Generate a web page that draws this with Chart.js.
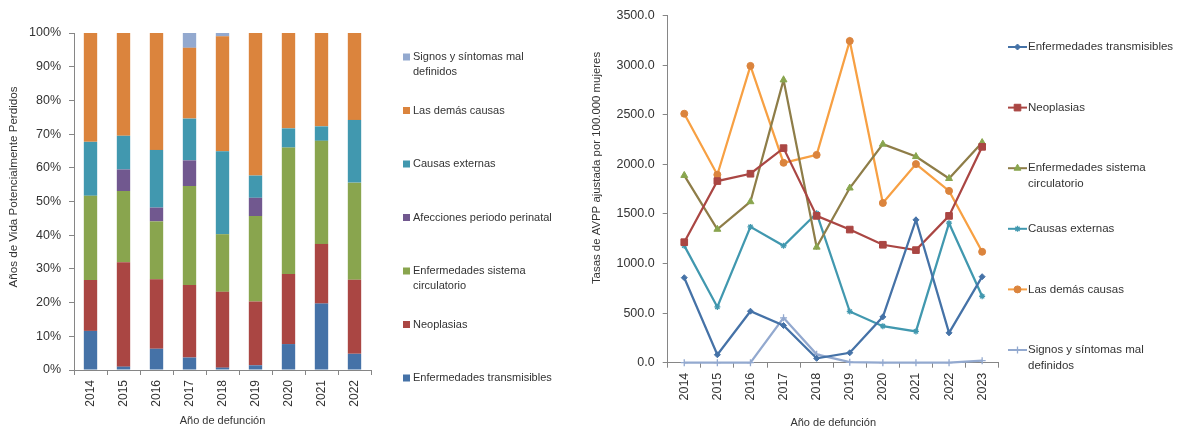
<!DOCTYPE html>
<html>
<head>
<meta charset="utf-8">
<script src="https://cdn.jsdelivr.net/npm/chart.js@4.4.1/dist/chart.umd.min.js"></script>
<style>
  html, body { margin: 0; padding: 0; background: #fff; width: 1178px; height: 431px; overflow: hidden; }
  .panel { position: absolute; top: 0; }
  #panelShare { left: 0; width: 590px; height: 431px; }
  #panelRates { left: 580px; width: 598px; height: 431px; }
</style>
</head>
<body>
<div class="panel" id="panelShare"><canvas id="share" width="590" height="431"></canvas></div>
<div class="panel" id="panelRates"><canvas id="rates" width="598" height="431"></canvas></div>
<script>
// ---- Data ----
const shareYears = ['2014', '2015', '2016', '2017', '2018', '2019', '2020', '2021', '2022'];
const rateYears  = ['2014', '2015', '2016', '2017', '2018', '2019', '2020', '2021', '2022', '2023'];

// Share of potential years of life lost by cause (%)
const shareTransmisibles = [11.6, 1.0, 6.3, 3.7, 0.7, 1.4, 7.7, 19.7, 4.8];
const shareNeoplasias    = [15.1, 31.0, 20.6, 21.5, 22.5, 18.9, 20.8, 17.7, 22.0];
const shareCirculatorio  = [25.0, 21.1, 17.2, 29.4, 17.1, 25.4, 37.5, 30.6, 28.8];
const sharePerinatal     = [0, 6.4, 4.1, 7.6, 0, 5.4, 0, 0, 0];
const shareExternas      = [16.0, 10.0, 17.1, 12.4, 24.6, 6.6, 5.7, 4.3, 18.6];
const shareDemas         = [32.3, 30.5, 34.7, 21.0, 34.1, 42.3, 28.3, 27.7, 25.8];
const shareSignos        = [0, 0, 0, 4.4, 1.0, 0, 0, 0, 0];

// Adjusted YPLL rates per 100.000 women
const rateTransmisibles = [857, 80, 519, 375, 44, 100, 462, 1440, 301, 867];
const rateNeoplasias    = [1215, 1831, 1905, 2163, 1480, 1342, 1189, 1135, 1480, 2176];
const rateCirculatorio  = [1888, 1345, 1623, 2851, 1165, 1761, 2203, 2078, 1857, 2219];
const rateExternas      = [1180, 562, 1369, 1179, 1506, 516, 368, 315, 1406, 670];
const rateDemas         = [2510, 1895, 2992, 2015, 2095, 3243, 1610, 2002, 1732, 1118];
const rateSignos        = [0, 0, 0, 452, 84, 5, 0, 0, 0, 20];

// ---- Style ----
const FONT = '"Liberation Sans", Arial, sans-serif';
const TEXT = '#333333';
const AXIS = '#868686';
Chart.defaults.font.family = FONT;
Chart.defaults.color = TEXT;

// Splits a legend name into lines no wider than maxWidth
function wrapText(ctx, text, maxWidth) {
  const words = text.split(' ');
  const lines = [];
  let cur = '';
  words.forEach(w => {
    const test = cur ? cur + ' ' + w : w;
    if (ctx.measureText(test).width > maxWidth && cur) { lines.push(cur); cur = w; }
    else cur = test;
  });
  if (cur) lines.push(cur);
  return lines;
}

// Legend column drawn beside the plot
const sideLegend = {
  id: 'sideLegend',
  afterDraw(chart, args, o) {
    if (!o || !o.order) return;
    const ctx = chart.ctx;
    ctx.save();
    ctx.font = o.size + 'px ' + FONT;
    ctx.textBaseline = 'middle';
    o.order.forEach((idx, k) => {
      const ds = chart.data.datasets[idx];
      const y = o.top + k * o.step;
      if (o.kind === 'box') {
        ctx.fillStyle = ds.backgroundColor;
        ctx.fillRect(o.symbolX, y - 3.5, 7, 7);
      } else {
        ctx.strokeStyle = ds.borderColor;
        ctx.lineWidth = 2;
        ctx.beginPath();
        ctx.moveTo(o.symbolX, y);
        ctx.lineTo(o.symbolX + o.symbolW, y);
        ctx.stroke();
        ctx.fillStyle = ds.pointBackgroundColor;
        ctx.strokeStyle = ds.pointBorderColor;
        ctx.lineWidth = ds.pointBorderWidth;
        Chart.helpers.drawPoint(ctx, {
          pointStyle: ds.pointStyle, radius: ds.pointRadius, rotation: 0,
          borderWidth: ds.pointBorderWidth
        }, o.symbolX + o.symbolW / 2, y);
      }
      ctx.fillStyle = TEXT;
      wrapText(ctx, ds.label, o.wrap).forEach((ln, j) => ctx.fillText(ln, o.textX, y + j * o.lineGap));
    });
    ctx.restore();
  }
};

// Vertical value-axis title, centred on a given point
const sideTitle = {
  id: 'sideTitle',
  afterDraw(chart, args, o) {
    if (!o || !o.text) return;
    const ctx = chart.ctx;
    ctx.save();
    ctx.translate(o.cx, o.cy);
    ctx.rotate(-Math.PI / 2);
    ctx.font = o.size + 'px ' + FONT;
    ctx.fillStyle = TEXT;
    ctx.textAlign = 'center';
    ctx.textBaseline = 'middle';
    ctx.fillText(o.text, 0, 0);
    ctx.restore();
  }
};

// ---- Stacked 100% bars ----
function shareSet(label, data, color) {
  return { label, data, backgroundColor: color, borderWidth: 0, barPercentage: 0.405, categoryPercentage: 1 };
}

new Chart(document.getElementById('share'), {
  type: 'bar',
  data: {
    labels: shareYears,
    datasets: [
      shareSet('Enfermedades transmisibles', shareTransmisibles, '#4572A7'),
      shareSet('Neoplasias', shareNeoplasias, '#AA4643'),
      shareSet('Enfermedades sistema circulatorio', shareCirculatorio, '#89A54E'),
      shareSet('Afecciones periodo perinatal', sharePerinatal, '#71588F'),
      shareSet('Causas externas', shareExternas, '#4198AF'),
      shareSet('Las demás causas', shareDemas, '#DB843D'),
      shareSet('Signos y síntomas mal definidos', shareSignos, '#93A9CF')
    ]
  },
  options: {
    responsive: false,
    animation: false,
    devicePixelRatio: 1,
    layout: { padding: { left: 0, right: 219, top: 33, bottom: 0 } },
    plugins: {
      legend: { display: false },
      tooltip: { enabled: false },
      sideLegend: { kind: 'box', order: [6, 5, 4, 3, 2, 1, 0], symbolX: 403, textX: 413,
                    top: 57, step: 53.5, lineGap: 15, size: 11, wrap: 150 },
      sideTitle: { text: 'Años de Vida Potencialmente Perdidos', cx: 14, cy: 187, size: 11.6 }
    },
    scales: {
      x: {
        stacked: true,
        grid: { drawOnChartArea: false, drawTicks: true, tickLength: 5, color: AXIS, offset: true },
        border: { color: AXIS },
        ticks: { minRotation: 90, maxRotation: 90, padding: 5, font: { size: 12 }, color: TEXT },
        title: { display: true, text: 'Año de defunción', font: { size: 11 }, color: TEXT, padding: { top: 0, bottom: 3 } },
        afterFit(s) { s.height = 61; }
      },
      y: {
        stacked: true, min: 0, max: 100,
        grid: { drawOnChartArea: false, drawTicks: true, tickLength: 5, color: AXIS },
        border: { color: AXIS },
        ticks: { stepSize: 10, padding: 8, font: { size: 12.5 }, color: TEXT, callback: v => v + '%' },
        afterFit(s) { s.width = 74; }
      }
    }
  },
  plugins: [sideLegend, sideTitle]
});

// ---- Rates by cause ----
function rateSet(label, data, line, marker, style, radius) {
  return {
    label, data, borderColor: line, borderWidth: 2.25, tension: 0, clip: false, fill: false,
    pointStyle: style, pointRadius: radius, pointBackgroundColor: marker,
    pointBorderColor: marker, pointBorderWidth: style === 'star' || style === 'cross' ? 1.3 : 1
  };
}

new Chart(document.getElementById('rates'), {
  type: 'line',
  data: {
    labels: rateYears,
    datasets: [
      rateSet('Enfermedades transmisibles', rateTransmisibles, '#4572A7', '#4572A7', 'rectRot', 3),
      rateSet('Neoplasias', rateNeoplasias, '#AA4643', '#AA4643', 'rect', 4.7),
      rateSet('Enfermedades sistema circulatorio', rateCirculatorio, '#8E7D48', '#89A54E', 'triangle', 4),
      rateSet('Causas externas', rateExternas, '#4198AF', '#4198AF', 'star', 3),
      rateSet('Las demás causas', rateDemas, '#F7A043', '#DB843D', 'circle', 3.5),
      rateSet('Signos y síntomas mal definidos', rateSignos, '#93A9CF', '#93A9CF', 'cross', 3.5)
    ]
  },
  options: {
    responsive: false,
    animation: false,
    devicePixelRatio: 1,
    layout: { padding: { left: 0, right: 179.3, top: 14, bottom: 0 } },
    plugins: {
      legend: { display: false },
      tooltip: { enabled: false },
      sideLegend: { kind: 'line', order: [0, 1, 2, 3, 4, 5], symbolX: 428, symbolW: 19, textX: 448,
                    top: 47, step: 60.6, lineGap: 16, size: 11.5, wrap: 152 },
      sideTitle: { text: 'Tasas de AVPP ajustada por 100.000 mujeres', cx: 17, cy: 168, size: 11.4 }
    },
    scales: {
      x: {
        offset: true,
        grid: { drawOnChartArea: false, drawTicks: true, tickLength: 5, color: AXIS, offset: true },
        border: { color: AXIS },
        ticks: { minRotation: 90, maxRotation: 90, padding: 5, font: { size: 12.5 }, color: TEXT },
        title: { display: true, text: 'Año de defunción', font: { size: 11 }, color: TEXT, padding: { top: 0, bottom: 1.4 } },
        afterFit(s) { s.height = 68.3; }
      },
      y: {
        min: 0, max: 3500,
        grid: { drawOnChartArea: false, drawTicks: true, tickLength: 5, color: AXIS },
        border: { color: AXIS },
        ticks: { stepSize: 500, padding: 8, font: { size: 12.5 }, color: TEXT, callback: v => Number(v).toFixed(1) },
        afterFit(s) { s.width = 87.7; }
      }
    }
  },
  plugins: [sideLegend, sideTitle]
});
</script>
</body>
</html>
